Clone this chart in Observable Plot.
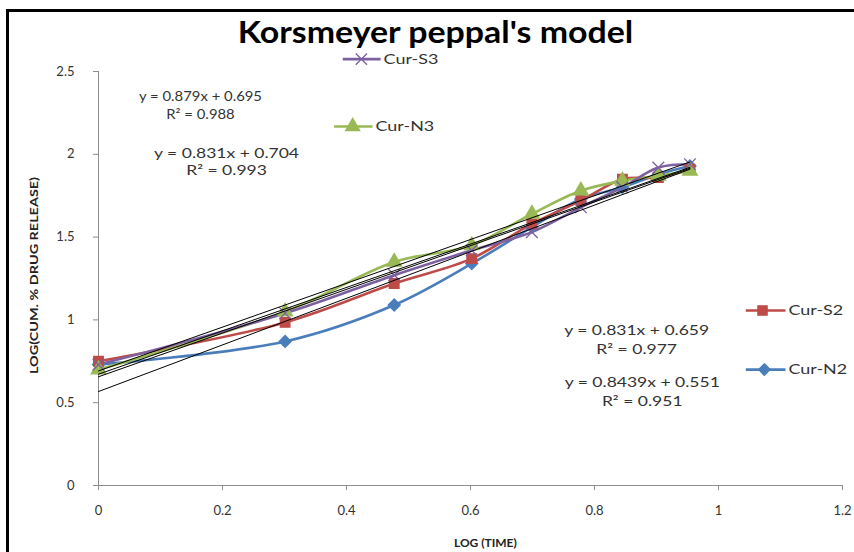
<!DOCTYPE html>
<html><head><meta charset="utf-8">
<script src="https://cdn.jsdelivr.net/npm/d3@7"></script>
<script src="https://cdn.jsdelivr.net/npm/@observablehq/plot@0.6"></script>
<style>
body{margin:0;background:#fff;}
#wrap{position:relative;width:854px;height:552px;overflow:hidden;background:#fff;}
#wrap svg{position:absolute;left:0;top:0;}
#border{position:absolute;left:6px;top:9px;width:900px;height:600px;border-left:3px solid #000;border-top:3px solid #000;}
</style></head><body><div id="wrap"><div id="border"></div></div>
<script>
// x values: log(time)
const logTime = [0, 0.301, 0.477, 0.602, 0.699, 0.778, 0.845, 0.903, 0.954];
// y values: log(cum. % drug release)
const curN2 = [0.73, 0.87, 1.09, 1.34, 1.56, 1.73, 1.80, 1.88, 1.93];
const curS2 = [0.75, 0.985, 1.22, 1.37, 1.58, 1.72, 1.85, 1.86, 1.91];
const curN3 = [0.70, 1.05, 1.35, 1.45, 1.64, 1.78, 1.84, 1.87, 1.90];
const curS3 = [0.73, 1.04, 1.27, 1.42, 1.53, 1.68, 1.80, 1.92, 1.94];

const seriesNames = ["Cur-N2", "Cur-S2", "Cur-N3", "Cur-S3"];
const seriesValues = [curN2, curS2, curN3, curS3];
const seriesColors = ["#4A7EBB", "#BE4B48", "#98B954", "#7D60A0"];
const seriesSymbols = ["diamond2", "square", "triangle", "times"];

const xTicks = [0, 0.2, 0.4, 0.6, 0.8, 1, 1.2];
const yTicks = [0, 0.5, 1, 1.5, 2, 2.5];

// trendline equation labels (as shown in the chart)
const eqText = ["y = 0.879x + 0.695", "R² = 0.988", "y = 0.831x + 0.704", "R² = 0.993",
                "y = 0.831x + 0.659", "R² = 0.977", "y = 0.8439x + 0.551", "R² = 0.951"];
const eqX = [0.1645, 0.1645, 0.2065, 0.2065, 0.868, 0.868, 0.877, 0.877];
const eqY = [2.349, 2.240, 2.005, 1.902, 0.935, 0.821, 0.622, 0.507];
const eqSize = [13.5, 13.5, 14, 14, 14, 14, 14, 14];
const eqStretch = [1.1, 1.1, 1.25, 1.25, 1.25, 1.25, 1.25, 1.25];

// legend entries placed inside the plot (series order as above)
const legY = [0.700, 1.057, 2.168, 2.575];
const legX0 = [1.044, 1.044, 0.380, 0.394];
const legX1 = [1.108, 1.108, 0.442, 0.455];
const legM = [1.074, 1.071, 0.410, 0.424];

const rows = [];
seriesNames.forEach((s, i) => logTime.forEach((x, j) => rows.push({series: s, x, y: seriesValues[i][j]})));
const legRows = seriesNames.map((s, i) => ({series: s, x0: legX0[i], x1: legX1[i], m: legM[i], y: legY[i]}));
const eqRows = eqText.map((t, i) => ({t, x: eqX[i], y: eqY[i], s: eqSize[i]}));

const font = "Lato, 'Open Sans', sans-serif";
const fmt = d => String(d);
const titleText = "Korsmeyer peppal's model";
const yTitle = "LOG(CUM. % DRUG RELEASE)";
const plot = Plot.plot({
  width: 854, height: 552,
  marginLeft: 98, marginRight: 12, marginTop: 71, marginBottom: 67,
  style: {fontFamily: font, background: "transparent", overflow: "visible"},
  x: {domain: [0, 1.2]},
  y: {domain: [0, 2.5]},
  color: {domain: seriesNames, range: seriesColors},
  symbol: {domain: seriesNames, range: seriesSymbols},
  marks: [
    Plot.ruleY([0], {stroke: "#8c8c8c"}),
    Plot.ruleX([0], {stroke: "#8c8c8c"}),
    Plot.axisX({ticks: xTicks, tickFormat: fmt, tickSize: 5, tickPadding: 15, stroke: "#8c8c8c", fill: "#333", fontSize: 13, label: null}),
    Plot.axisY({ticks: yTicks, tickFormat: fmt, tickSize: 5, tickPadding: 19, stroke: "#8c8c8c", fill: "#333", fontSize: 13, label: null}),
    Plot.line(rows, {x: "x", y: "y", z: "series", stroke: "series", strokeWidth: 2.6, curve: "catmull-rom"}),
    Plot.dot(rows, {x: "x", y: "y", symbol: "series", fill: "series", stroke: "series", r: 5.4, strokeWidth: 1.3}),
    Plot.linearRegressionY(rows, {x: "x", y: "y", z: "series", stroke: "#000", strokeWidth: 1, ci: 0}),
    // legend
    Plot.link(legRows, {x1: "x0", x2: "x1", y1: "y", y2: "y", stroke: "series", strokeWidth: 2.6}),
    Plot.dot(legRows, {x: "m", y: "y", symbol: "series", fill: "series", stroke: "series", r: 5.2, strokeWidth: 1.3}),
    Plot.text(legRows, {x: "x1", y: "y", text: "series", textAnchor: "start", dx: 3, fontSize: 14, fill: "#333"}),
    // equations
    Plot.text(eqRows, {x: "x", y: "y", text: "t", fontSize: "s", fill: "#333"}),
    // title and axis titles
    Plot.text([titleText], {x: 0.5435, y: 2.73, fontSize: 30, fontWeight: "bold", fill: "#000"}),
    Plot.text(["LOG (TIME)"], {x: 0.624, y: -0.35, fontSize: 12, fontWeight: "bold", fill: "#222"}),
    Plot.text([yTitle], {x: -0.103, y: 1.268, rotate: -90, fontSize: 12, fontWeight: "bold", fill: "#222"})
  ]
});
document.getElementById("wrap").prepend(plot);
// horizontal stretch of labels, mimicking the reference's wide lettering
function stretch(el, s) {
  const L = el.getComputedTextLength();
  if (L > 0) {
    el.setAttribute("textLength", (L * s).toFixed(1));
    el.setAttribute("lengthAdjust", "spacingAndGlyphs");
  }
}
d3.select(plot).selectAll("text").each(function() {
  const t = this.textContent;
  const i = eqText.indexOf(t);
  if (i >= 0) stretch(this, eqStretch[i]);
  else if (seriesNames.includes(t)) stretch(this, 1.28);
  else if (t === titleText) stretch(this, 1.13);
  else if (t === yTitle) stretch(this, 1.2);
});
</script>
</body></html>
